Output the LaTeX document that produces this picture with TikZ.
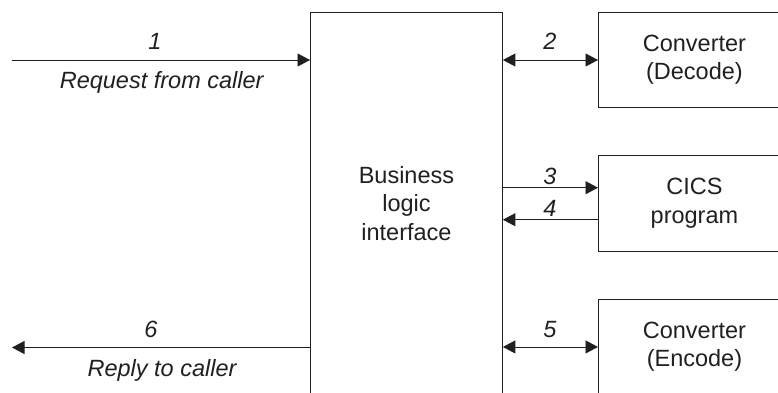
\documentclass[tikz,border=0pt]{standalone}
\usepackage{fontspec}
\setmainfont{Liberation Sans}
\usetikzlibrary{arrows.meta}
\definecolor{ink}{HTML}{231F20}
\tikzset{
 boxn/.style={draw=ink,line width=0.9pt,align=center,text=ink,font=\fontsize{23.5}{28.5}\selectfont,inner sep=0pt,anchor=north west},
 conn/.style={draw=ink,line width=0.9pt,-{Triangle[length=12.5pt,width=13pt]}},
 conb/.style={draw=ink,line width=0.9pt,{Triangle[length=12.5pt,width=13pt]}-{Triangle[length=12.5pt,width=13pt]}},
 lab/.style={text=ink,font=\fontsize{23.5}{28.5}\selectfont\itshape,inner sep=0pt,anchor=base}
}
\begin{document}
\begin{tikzpicture}[x=1pt,y=-1pt]
\useasboundingbox (0,0) rectangle (778,392);
\node[boxn,minimum width=192pt,minimum height=382pt] (biz) at (310,12) {Business\\logic\\interface};
\node[boxn,minimum width=192pt,minimum height=95pt] (dec) at (598,12) {Converter\\(Decode)};
\node[boxn,minimum width=192pt,minimum height=96pt] (cics) at (598,155) {CICS\\program};
\node[boxn,minimum width=192pt,minimum height=95pt] (enc) at (598,299) {Converter\\(Encode)};
\coordinate (inS) at (12,60);
\coordinate (outE) at (12,347.5);
\draw[conn] (inS) -- (inS -| biz.west);
\draw[conn] (outE -| biz.west) -- (outE);
\draw[conb] (biz.east |- inS) -- (dec.west |- inS);
\draw[conn] (biz.east |- 0,187.7) -- (cics.west |- 0,187.7);
\draw[conn] (cics.west |- 0,219.7) -- (biz.east |- 0,219.7);
\draw[conb] (biz.east |- enc.west) -- (enc.west);
\node[lab] (l1) at (155,49) {1};
\node[lab] (t1) at (161.7,88) {Request from caller};
\node[lab] (l2) at (550,49) {2};
\node[lab] (l3) at (550,184.3) {3};
\node[lab] (l4) at (550,216) {4};
\node[lab] (l5) at (550,337) {5};
\node[lab] (l6) at (151,337) {6};
\node[lab] (t6) at (162,376) {Reply to caller};
\end{tikzpicture}
\end{document}
